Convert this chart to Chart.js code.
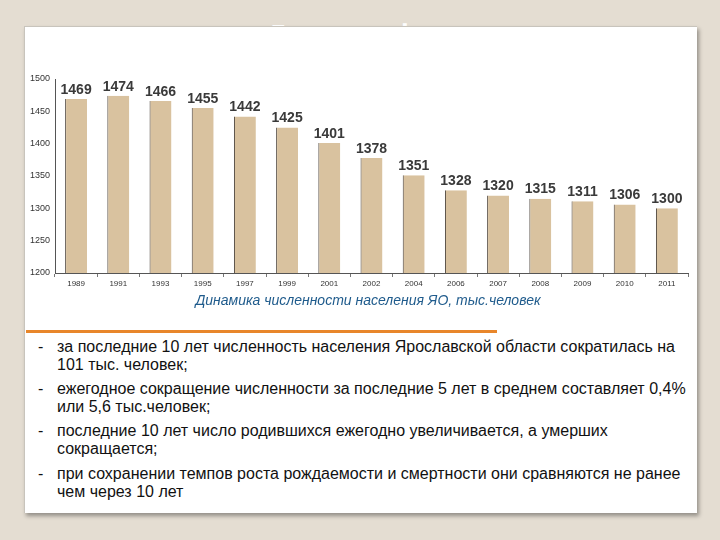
<!DOCTYPE html>
<html>
<head>
<meta charset="utf-8">
<script src="https://cdn.jsdelivr.net/npm/chart.js@4"></script>
<style>
  body { margin: 0; background: #e4ddd2; width: 720px; height: 540px; overflow: hidden; font-family: "Liberation Sans", Arial, sans-serif; }
  #ghost { position: absolute; left: 0; width: 720px; top: 18px; text-align: center; color: #fff; font: bold 30px "Liberation Sans", Arial, sans-serif; }
  #card { position: absolute; left: 24px; top: 26px; width: 672px; height: 486px; background: #fff; border-left: 1px solid #c8c4bc; border-top: 1px solid #c8c4bc; box-shadow: 2px 3px 4px rgba(0,0,0,0.35); }
  #wrap { position: absolute; left: 0; top: 0; width: 720px; height: 295px; }
  #caption { position: absolute; left: 0; width: 736px; top: 292px; text-align: center; font-style: italic; font-size: 14px; color: #1f5b8c; }
  #rule { position: absolute; left: 26px; top: 330px; width: 471px; height: 3px; background: #e8862a; }
  .item { position: absolute; left: 57px; width: 638px; font-size: 16px; line-height: 18px; color: #111; }
  .item:before { content: "-"; position: absolute; left: -19px; }
</style>
</head>
<body>
<div id="ghost">Демография</div>
<div id="card"></div>
<div id="wrap"><canvas id="popChart"></canvas></div>
<div id="caption">Динамика численности населения ЯО, тыс.человек</div>
<div id="rule"></div>
<div class="item" style="top:338px">за последние 10 лет численность населения Ярославской области сократилась на 101 тыс. человек;</div>
<div class="item" style="top:380px">ежегодное сокращение численности за последние 5 лет в среднем составляет 0,4% или 5,6 тыс.человек;</div>
<div class="item" style="top:422px">последние 10 лет число родившихся ежегодно увеличивается, а умерших сокращается;</div>
<div class="item" style="top:465px">при сохранении темпов роста рождаемости и смертности они сравняются не ранее чем через 10 лет</div>
<script>
const years = ["1989", "1991", "1993", "1995", "1997", "1999", "2001", "2002", "2004", "2006", "2007", "2008", "2009", "2010", "2011"];
const population = [1469, 1474, 1466, 1455, 1442, 1425, 1401, 1378, 1351, 1328, 1320, 1315, 1311, 1306, 1300];
const yTicks = [1200, 1250, 1300, 1350, 1400, 1450, 1500];

// value labels above bars
const valueLabels = {
    id: "valueLabels",
    afterDatasetsDraw(chart) {
        const ctx = chart.ctx;
        const meta = chart.getDatasetMeta(0);
        ctx.save();
        ctx.font = "bold 14px 'Liberation Sans', Arial, sans-serif";
        ctx.fillStyle = "#3a3a3a";
        ctx.textAlign = "center";
        ctx.textBaseline = "bottom";
        meta.data.forEach((bar, i) => {
            ctx.fillText(population[i], bar.x, bar.y - 2);
        });
        ctx.restore();
    }
};

const ctx = document.getElementById("popChart").getContext("2d");
new Chart(ctx, {
    type: "bar",
    data: {
        labels: years,
        datasets: [{
            data: population,
            backgroundColor: "#d9c29f",
            borderColor: "#4a4038",
            borderWidth: { left: 1, top: 0, right: 0, bottom: 0 },
            borderSkipped: false,
            barPercentage: 0.52,
            categoryPercentage: 1
        }]
    },
    options: {
        responsive: true,
        maintainAspectRatio: false,
        animation: false,
        layout: { padding: { left: 22, right: 32, top: 79, bottom: 2 } },
        plugins: { legend: { display: false }, tooltip: { enabled: false } },
        scales: {
            x: {
                afterFit: s => { s.height = 20; },
                grid: { drawOnChartArea: false, drawTicks: true, tickLength: 4, color: "#777", offset: true },
                border: { display: true, color: "#555" },
                ticks: { color: "#333", font: { size: 8, family: "'Liberation Sans', Arial" }, padding: 2, maxRotation: 0 }
            },
            y: {
                min: 1200,
                max: 1500,
                afterFit: s => { s.width = 33; },
                afterBuildTicks: s => { s.ticks = yTicks.map(v => ({ value: v })); },
                grid: { display: false, drawTicks: false },
                border: { display: true, color: "#555" },
                ticks: {
                    color: "#333",
                    font: { size: 9, family: "'Liberation Sans', Arial" },
                    padding: 5,
                    callback: v => String(v)
                }
            }
        }
    },
    plugins: [valueLabels]
});
</script>
</body>
</html>
